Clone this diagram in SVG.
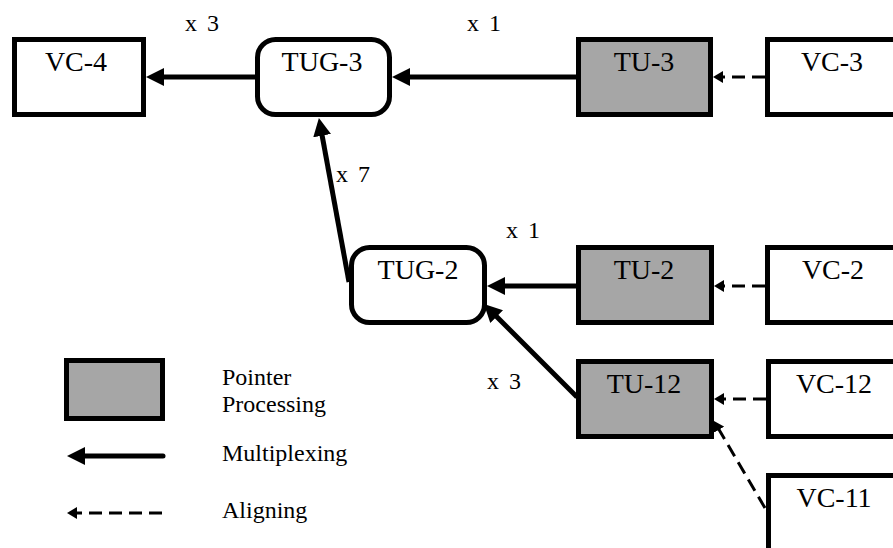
<svg xmlns="http://www.w3.org/2000/svg" width="893" height="548" viewBox="0 0 893 548">
<defs>
<style>
text{font-family:'Liberation Serif','DejaVu Serif',serif;fill:#000}
.box{fill:#fff;stroke:#000;stroke-width:5}
.ptr{fill:#a6a6a6;stroke:#000;stroke-width:5}
.lbl{font-size:28px;text-anchor:middle}
.mult{font-size:24px;word-spacing:4px}
.leg{font-size:24px}
.mux{fill:none;stroke:#000;stroke-width:5}
.aln{fill:none;stroke:#000;stroke-width:3;stroke-dasharray:13 7}
</style>
<marker id="mh" viewBox="0 0 18 18" refX="8" refY="9" markerWidth="18" markerHeight="18" markerUnits="userSpaceOnUse" orient="auto">
<path d="M0,0 L18,9 L0,18 z" fill="#000"/>
</marker>
<marker id="ah" viewBox="0 0 10 12" refX="6" refY="6" markerWidth="10" markerHeight="12" markerUnits="userSpaceOnUse" orient="auto">
<path d="M0,0 L10,6 L0,12 z" fill="#000"/>
</marker>
</defs>
<g id="connectors">
<line class="mux" x1="255" y1="77" x2="156" y2="77" marker-end="url(#mh)"/>
<line class="mux" x1="576" y1="77" x2="402" y2="77" marker-end="url(#mh)"/>
<line class="aln" x1="765" y1="77" x2="717" y2="77" marker-end="url(#ah)"/>
<line class="mux" x1="349" y1="282" x2="320.7" y2="127.8" marker-end="url(#mh)"/>
<line class="mux" x1="576" y1="286" x2="497" y2="286" marker-end="url(#mh)"/>
<line class="aln" x1="765" y1="286" x2="718" y2="286" marker-end="url(#ah)"/>
<line class="mux" x1="577" y1="397" x2="491" y2="311" marker-end="url(#mh)"/>
<line class="aln" x1="766" y1="399" x2="718" y2="399" marker-end="url(#ah)"/>
<line class="aln" x1="765" y1="508" x2="716" y2="424.5" marker-end="url(#ah)"/>
</g>
<g id="VC-4"><rect class="box" x="14.5" y="39.5" width="129" height="75"/><text class="lbl" x="76" y="71">VC-4</text></g>
<g id="TUG-3"><rect class="box" x="257.5" y="39.5" width="132" height="75" rx="18"/><text class="lbl" x="322" y="71">TUG-3</text></g>
<g id="TU-3"><rect class="ptr" x="578.5" y="39.5" width="132" height="75"/><text class="lbl" x="644" y="71">TU-3</text></g>
<g id="VC-3"><rect class="box" x="767.5" y="39.5" width="130" height="75"/><text class="lbl" x="832" y="71">VC-3</text></g>
<g id="TUG-2"><rect class="box" x="351.5" y="247.5" width="133" height="75" rx="18"/><text class="lbl" x="418" y="279">TUG-2</text></g>
<g id="TU-2"><rect class="ptr" x="578.5" y="247.5" width="133" height="75"/><text class="lbl" x="644" y="279">TU-2</text></g>
<g id="VC-2"><rect class="box" x="767.5" y="247.5" width="130" height="75"/><text class="lbl" x="833" y="279">VC-2</text></g>
<g id="TU-12"><rect class="ptr" x="578.5" y="361.5" width="133" height="75"/><text class="lbl" x="644" y="393">TU-12</text></g>
<g id="VC-12"><rect class="box" x="768.5" y="361.5" width="130" height="75"/><text class="lbl" x="834" y="393">VC-12</text></g>
<g id="VC-11"><rect class="box" x="768.5" y="475.5" width="130" height="90"/><text class="lbl" x="834" y="507">VC-11</text></g>
<g id="multiplicities">
<text class="mult" x="185" y="31">x 3</text>
<text class="mult" x="467" y="31">x 1</text>
<text class="mult" x="336" y="182">x 7</text>
<text class="mult" x="506" y="238">x 1</text>
<text class="mult" x="487" y="389">x 3</text>
</g>
<g id="legend">
<rect class="ptr" x="66.5" y="360.5" width="96" height="58"/>
<text class="leg" x="222" y="385">Pointer</text>
<text class="leg" x="222" y="412">Processing</text>
<line class="mux" x1="163" y1="456" x2="77" y2="456" stroke-linecap="round" marker-end="url(#mh)"/>
<text class="leg" x="222" y="461">Multiplexing</text>
<line class="aln" x1="162" y1="513" x2="71" y2="513" marker-end="url(#ah)"/>
<text class="leg" x="222" y="518">Aligning</text>
</g>
</svg>
